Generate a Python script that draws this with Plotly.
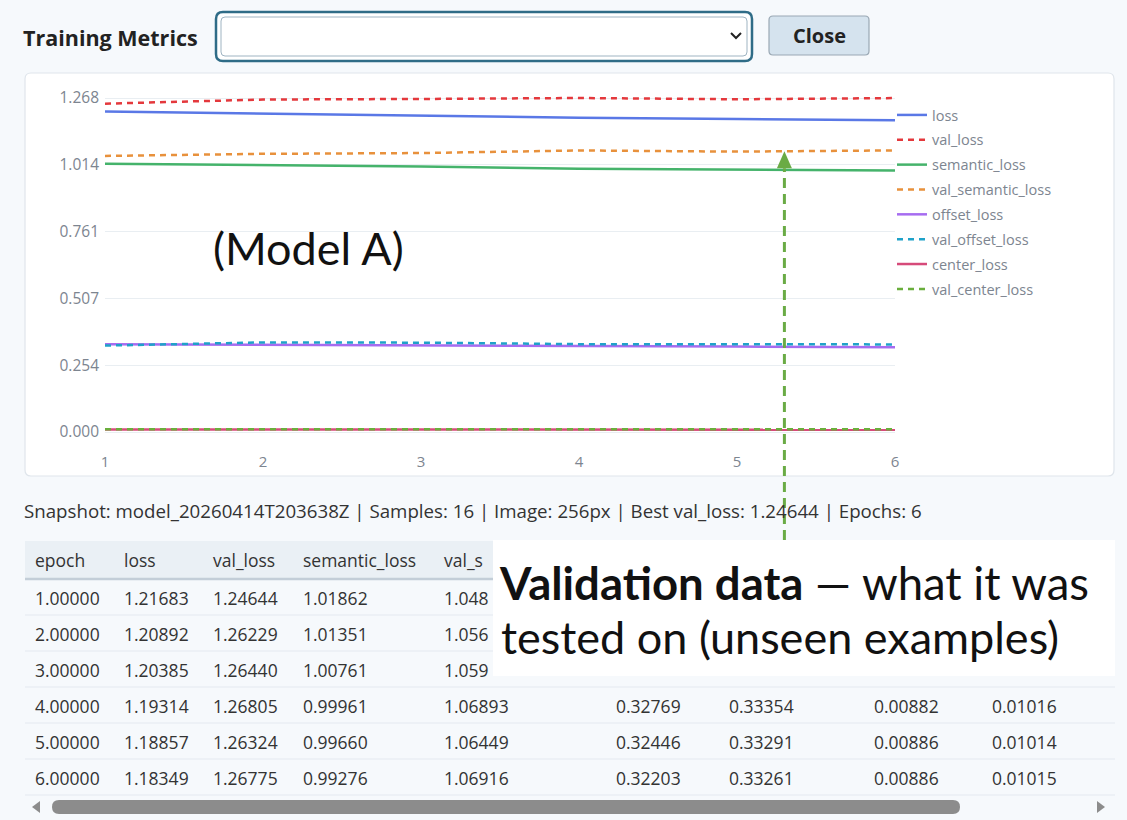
import numpy as np
import plotly.graph_objects as go

W, H = 1127, 820

# ---------------- data ----------------
epochs = [1, 2, 3, 4, 5, 6]
loss = [1.21683, 1.20892, 1.20385, 1.19314, 1.18857, 1.18349]
val_loss = [1.24644, 1.26229, 1.26440, 1.26805, 1.26324, 1.26775]
semantic_loss = [1.01862, 1.01351, 1.00761, 0.99961, 0.99660, 0.99276]
val_semantic_loss = [1.04815, 1.05612, 1.05902, 1.06893, 1.06449, 1.06916]
offset_loss = [0.33338, 0.33162, 0.33021, 0.32769, 0.32446, 0.32203]
val_offset_loss = [0.32812, 0.34015, 0.33918, 0.33354, 0.33291, 0.33261]
center_loss = [0.00925, 0.00903, 0.00889, 0.00882, 0.00886, 0.00886]
val_center_loss = [0.01026, 0.01019, 0.01017, 0.01016, 0.01014, 0.01015]

series_names = ["loss", "val_loss", "semantic_loss", "val_semantic_loss",
                "offset_loss", "val_offset_loss", "center_loss", "val_center_loss"]
series_values = [loss, val_loss, semantic_loss, val_semantic_loss,
                 offset_loss, val_offset_loss, center_loss, val_center_loss]
series_colors = ["#5a78e6", "#e4383c", "#45b36b", "#e8913c",
                 "#a66cf0", "#1fa2c9", "#d64a7a", "#6aae3c"]

table_columns = ["epoch"] + series_names
snapshot_text = ("Snapshot: model_20260414T203638Z | Samples: 16 | Image: 256px | "
                 "Best val_loss: 1.24644 | Epochs: 6")
title_text = "Training Metrics"
button_text = "Close"
model_label = "(Model A)"
callout_lines = ["<b>Validation data</b> — what it was", "tested on (unseen examples)"]
arrow_epoch = 5.3

# ---------------- helpers ----------------
def X(px):
    return px / W

def Y(py):
    return 1 - py / H

def rrect(x0, y0, x1, y1, r):
    a, b, c, d = X(x0), Y(y0), X(x1), Y(y1)
    rx, ry = r / W, r / H
    return (f"M{a+rx},{b} L{c-rx},{b} Q{c},{b} {c},{b-ry} L{c},{d+ry} Q{c},{d} {c-rx},{d} "
            f"L{a+rx},{d} Q{a},{d} {a},{d+ry} L{a},{b-ry} Q{a},{b} {a+rx},{b} Z")

UI_FONT = "Open Sans"
CH_FONT = "Open Sans"
CALLOUT_FONT = "Lato"

# axis geometry (pixels)
PX_L, PX_R = 105, 895
PX_T, PX_B = 88, 446
y_top_val = max(val_loss)
px_per_unit = (432 - 98) / y_top_val
y_lo = -(PX_B - 432) / px_per_unit
y_hi = y_top_val + (98 - PX_T) / px_per_unit
tickvals = [y_top_val * i / 5 for i in range(6)]
ticktext = [f"{v:.3f}" for v in tickvals]

def yp(v):
    d0, d1 = Y(PX_B), Y(PX_T)
    return d0 + (v - y_lo) / (y_hi - y_lo) * (d1 - d0)

def xp(v):
    d0, d1 = X(PX_L), X(PX_R)
    return d0 + (v - epochs[0]) / (epochs[-1] - epochs[0]) * (d1 - d0)

fig = go.Figure()
for name, vals, col in zip(series_names, series_values, series_colors):
    fig.add_trace(go.Scatter(
        x=epochs, y=vals, name=name, mode="lines", legendgroup=name,
        line=dict(color=col, width=2.5, dash="6px,5px" if name.startswith("val_") else "solid"),
    ))

shapes = []
annotations = []

# page elements
shapes.append(dict(type="path", xref="paper", yref="paper", path=rrect(25, 73, 1114, 476, 6),
                   fillcolor="white", line=dict(color="#dfe5eb", width=1.2), layer="below"))
# select box
shapes.append(dict(type="path", xref="paper", yref="paper", path=rrect(216, 12, 752, 61, 7),
                   fillcolor="white", line=dict(color="#2f6c87", width=2.5), layer="below"))
shapes.append(dict(type="path", xref="paper", yref="paper", path=rrect(221, 17, 747, 56, 4),
                   fillcolor="white", line=dict(color="#9fb4c2", width=1), layer="below"))
shapes.append(dict(type="path", xref="paper", yref="paper",
                   path=f"M{X(731)},{Y(33)} L{X(736)},{Y(38)} L{X(741)},{Y(33)}",
                   line=dict(color="#222", width=2), layer="below"))
# close button
shapes.append(dict(type="path", xref="paper", yref="paper", path=rrect(769, 16, 869, 55, 4),
                   fillcolor="#d5e3ee", line=dict(color="#9aa8b4", width=1.2), layer="below"))

# table header
shapes.append(dict(type="rect", xref="paper", yref="paper", x0=X(25), x1=X(1115), y0=Y(578), y1=Y(541),
                   fillcolor="#eaf0f5", line=dict(width=0), layer="below"))
shapes.append(dict(type="line", xref="paper", yref="paper", x0=X(25), x1=X(1115), y0=Y(579), y1=Y(579),
                   line=dict(color="#c3ced8", width=2.5), layer="below"))
for i in range(len(epochs)):
    yy = 615 + 36 * i
    shapes.append(dict(type="line", xref="paper", yref="paper", x0=X(25), x1=X(1115), y0=Y(yy), y1=Y(yy),
                       line=dict(color="#e3e9ef", width=1.2), layer="below"))
# scrollbar
shapes.append(dict(type="path", xref="paper", yref="paper", path=rrect(52, 800, 960, 814, 7),
                   fillcolor="#8c8c8c", line=dict(width=0), layer="below"))
shapes.append(dict(type="path", xref="paper", yref="paper",
                   path=f"M{X(40)},{Y(801)} L{X(32)},{Y(807)} L{X(40)},{Y(813)} Z",
                   fillcolor="#8c8c8c", line=dict(width=0), layer="below"))
shapes.append(dict(type="path", xref="paper", yref="paper",
                   path=f"M{X(1097)},{Y(801)} L{X(1105)},{Y(807)} L{X(1097)},{Y(813)} Z",
                   fillcolor="#8c8c8c", line=dict(width=0), layer="below"))

# callout box geometry (pixels)
BOX_L, BOX_T, BOX_R, BOX_B = 493, 540, 1115, 676

# arrow pointing to val_semantic_loss
tip_val = float(np.interp(arrow_epoch, epochs, val_semantic_loss))
ax_ = xp(arrow_epoch)
ay_tip = yp(tip_val)
head_h = 17 / H
head_w = 7.5 / W
shapes.append(dict(type="line", xref="paper", yref="paper", x0=ax_, x1=ax_, y0=Y(BOX_T), y1=ay_tip - head_h,
                   line=dict(color="#6aab45", width=3, dash="10px,6px"), layer="above"))
shapes.append(dict(type="path", xref="paper", yref="paper",
                   path=f"M{ax_},{ay_tip} L{ax_+head_w},{ay_tip-head_h} L{ax_-head_w},{ay_tip-head_h} Z",
                   fillcolor="#6aab45", line=dict(width=0), layer="above"))
# white callout box
shapes.append(dict(type="rect", xref="paper", yref="paper", x0=X(BOX_L), x1=X(BOX_R), y0=Y(BOX_B), y1=Y(BOX_T),
                   fillcolor="white", line=dict(width=0), layer="above"))

# texts
annotations.append(dict(xref="paper", yref="paper", x=X(21), y=Y(37), xanchor="left", yanchor="middle",
                        text=f"<b>{title_text}</b>", showarrow=False,
                        font=dict(family=UI_FONT, size=21.5, color="#222")))
annotations.append(dict(xref="paper", yref="paper", x=X(819), y=Y(35), xanchor="center", yanchor="middle",
                        text=f"<b>{button_text}</b>", showarrow=False,
                        font=dict(family=UI_FONT, size=20, color="#222")))
annotations.append(dict(xref="paper", yref="paper", x=X(211), y=Y(248), xanchor="left", yanchor="middle",
                        text=model_label, showarrow=False,
                        font=dict(family=CALLOUT_FONT, size=45, color="#111")))
annotations.append(dict(xref="paper", yref="paper", x=X(22), y=Y(510), xanchor="left", yanchor="middle",
                        text=snapshot_text, showarrow=False,
                        font=dict(family=UI_FONT, size=18.7, color="#333")))

# table text (cells hidden behind the callout box are not drawn; the one partly
# hidden column is cut at the box edge)
TBL_SIZE = 17.5
col_x = [33, 122, 211, 301, 442, 614, 727, 872, 990]
header_y = 560
row_y = [598 + 36 * i for i in range(len(epochs))]
col_vals = [epochs] + series_values

def cell_text(cx, yy, txt):
    if BOX_T <= yy <= BOX_B:
        if cx >= BOX_L:
            return None
        if cx + len(txt) * 9.2 > BOX_L:
            keep = int((BOX_L - cx) / 9.2)
            return txt[:keep]
    return txt

for cx, cname in zip(col_x, table_columns):
    t = cell_text(cx, header_y, cname)
    if t:
        annotations.append(dict(xref="paper", yref="paper", x=X(cx), y=Y(header_y), xanchor="left",
                                yanchor="middle", text=t, showarrow=False,
                                font=dict(family=UI_FONT, size=TBL_SIZE, color="#333")))
for ri, yy in enumerate(row_y):
    for cx, vals in zip(col_x, col_vals):
        t = cell_text(cx, yy, f"{float(vals[ri]):.5f}")
        if t:
            annotations.append(dict(xref="paper", yref="paper", x=X(cx), y=Y(yy), xanchor="left",
                                    yanchor="middle", text=t, showarrow=False,
                                    font=dict(family=UI_FONT, size=TBL_SIZE, color="#333")))

annotations.append(dict(xref="paper", yref="paper", x=X(497), y=Y(582), xanchor="left", yanchor="middle",
                        text=callout_lines[0], showarrow=False,
                        font=dict(family=CALLOUT_FONT, size=45.5, color="#111")))
annotations.append(dict(xref="paper", yref="paper", x=X(499), y=Y(637), xanchor="left", yanchor="middle",
                        text=callout_lines[1], showarrow=False,
                        font=dict(family=CALLOUT_FONT, size=45, color="#111")))

fig.update_layout(
    width=W, height=H, autosize=False,
    margin=dict(l=0, r=0, t=0, b=0, pad=0, autoexpand=False),
    paper_bgcolor="#f6f9fc", plot_bgcolor="rgba(0,0,0,0)",
    font=dict(family=CH_FONT, size=15, color="#7d8590"),
    xaxis=dict(domain=[X(PX_L), X(PX_R)], range=[epochs[0], epochs[-1]], tickvals=epochs,
               showgrid=False, zeroline=False, showline=False, ticks="", automargin=False,
               ticklabelstandoff=5, tickfont=dict(size=15, color="#7d8590")),
    yaxis=dict(domain=[Y(PX_B), Y(PX_T)], range=[y_lo, y_hi], tickvals=tickvals, ticktext=ticktext,
               showgrid=True, gridcolor="#e9eef2", gridwidth=1.3, zeroline=False, showline=False,
               ticks="", automargin=False, ticklabelstandoff=5,
               tickfont=dict(size=15.5, color="#7d8590")),
    legend=dict(x=X(892), y=Y(99), xanchor="left", yanchor="top", bgcolor="rgba(0,0,0,0)",
                tracegroupgap=3, font=dict(family=CH_FONT, size=14.5, color="#7d8590")),
    shapes=shapes, annotations=annotations,
    showlegend=True,
)

fig.write_html("out.html", config={"displayModeBar": False},
               post_script=("document.body.style.margin='0';"
                            "document.body.style.overflow='hidden';"
                            "document.documentElement.style.overflow='hidden';"))
